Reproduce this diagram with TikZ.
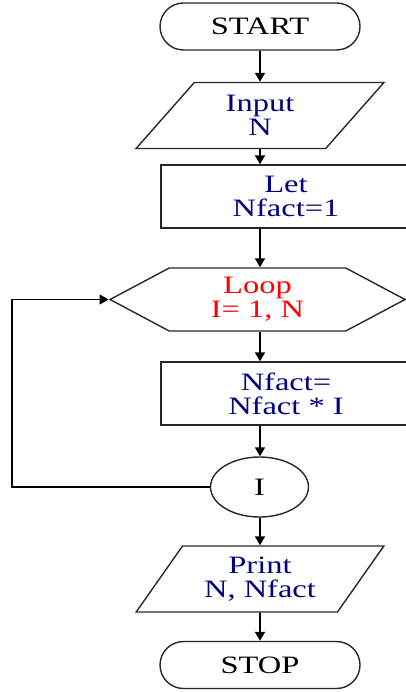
\documentclass[tikz,border=0pt]{standalone}
\usepackage{fontspec}
\setmainfont{Liberation Serif}
\newfontfamily\chartfont[FakeStretch=1.3]{Liberation Serif}
\usetikzlibrary{shapes.geometric, shapes.misc, shapes.symbols, arrows.meta}
\definecolor{TextBlue}{RGB}{0,0,128}
\definecolor{LineGray}{RGB}{40,40,40}

\begin{document}
\begin{tikzpicture}[x=1pt,y=-1pt,
        base/.style={draw=LineGray,line width=1.4pt,inner sep=0pt,align=center,
                     font=\chartfont\fontsize{25}{24}\selectfont},
        term/.style={base,rounded rectangle,minimum width=200pt,minimum height=47pt},
        io/.style={base,trapezium,trapezium left angle=53,trapezium right angle=127,
                   trapezium stretches=true,minimum width=248pt,minimum height=66pt,
                   text=TextBlue},
        proc/.style={base,rectangle,minimum width=250pt,minimum height=63pt,text=TextBlue},
        loopbox/.style={base,signal,signal to=west and east,signal pointer angle=56,
                        minimum width=295pt,minimum height=63pt,text=red},
        conn/.style={base,ellipse,minimum width=98pt,minimum height=60pt},
        arrow/.style={-{Triangle[width=10pt,length=9pt]},line width=1.6pt,black}]
        \useasboundingbox (0,0) rectangle (405,692);
        \node[term] (start) at (260,26.5) {START};
        \node[io] (input) at (260,115.5) {Input\\N};
        \node[proc] (let) at (286,196.5) {Let\\Nfact=1};
        \node[loopbox] (loop) at (257.5,299.5) {Loop\\I= 1, N};
        \node[proc] (calc) at (286,393.5) {Nfact=\\Nfact * I};
        \node[conn] (iter) at (259.5,487) {I};
        \node[io] (print) at (260,579) {Print\\N, Nfact};
        \node[term] (stop) at (260,665) {STOP};
        \coordinate (back) at (12,487);
        \draw[arrow] (start) -- (input);
        \draw[arrow] (input) -- (input |- let.north);
        \draw[arrow] (input |- let.south) -- (input |- loop.north);
        \draw[arrow] (input |- loop.south) -- (input |- calc.north);
        \draw[arrow] (input |- calc.south) -- (input |- iter.north);
        \draw[arrow] (input |- iter.south) -- (print);
        \draw[arrow] (print) -- (stop);
        \draw[arrow] (iter.west) -- (back) |- (loop.west);
      \end{tikzpicture}
\end{document}
